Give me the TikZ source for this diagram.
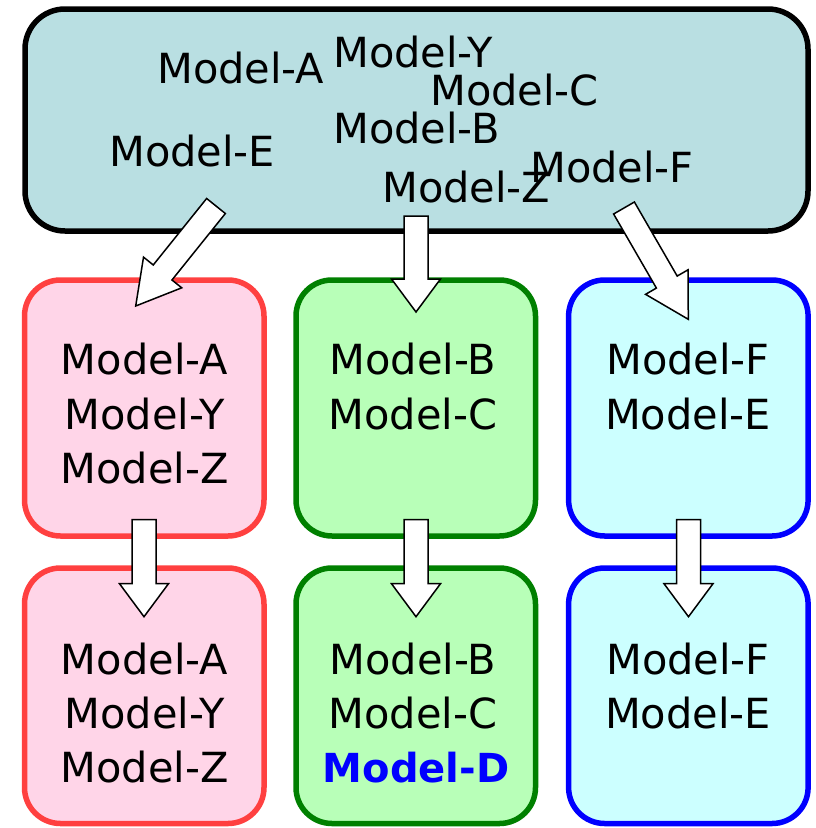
\documentclass[tikz,border=0pt]{standalone}
\usepackage{fontspec}
\setmainfont{DejaVu Sans}
\usetikzlibrary{calc}
\definecolor{topfill}{RGB}{185,223,226}
\definecolor{pinkfill}{RGB}{255,213,232}
\definecolor{pinkline}{RGB}{255,64,64}
\definecolor{greenfill}{RGB}{184,255,184}
\definecolor{greenline}{RGB}{0,128,0}
\definecolor{cyanfill}{RGB}{204,255,255}
\definecolor{blueline}{RGB}{0,0,255}
\newcommand\blockarrow[3]{%
  \coordinate (hb) at ($(#2)!#3!(#1)$);
  \draw[blockarrow] ($(#1)!12pt!90:(#2)$) -- ($(hb)!12pt!90:(#2)$) -- ($(hb)!24.5pt!90:(#2)$) -- (#2) -- ($(hb)!24.5pt!-90:(#2)$) -- ($(hb)!12pt!-90:(#2)$) -- ($(#1)!12pt!-90:(#2)$) -- cycle;}
\begin{document}
\begin{tikzpicture}[x=1pt,y=-1pt,
  box/.style={rectangle, rounded corners=36pt, line width=5.5pt, inner sep=0pt, minimum width=239.5pt},
  midbox/.style={box, minimum height=256pt},
  lowbox/.style={box, minimum height=255.5pt},
  pinkbox/.style={draw=pinkline, fill=pinkfill},
  greenbox/.style={draw=greenline, fill=greenfill},
  cyanbox/.style={draw=blueline, fill=cyanfill},
  txt/.style={inner sep=0pt, font=\fontsize{41.5}{50}\selectfont},
  ltxt/.style={txt, anchor=base west},
  ctxt/.style={txt, anchor=base},
  blockarrow/.style={draw=black, fill=white, line width=1.5pt, line join=miter}]
\useasboundingbox (0,0) rectangle (816,828);
% top box
\node[rectangle, rounded corners=40pt, line width=5.5pt, draw=black, fill=topfill, inner sep=0pt,
  minimum width=783pt, minimum height=222pt] (top) at (416.5,120) {};
\node[ltxt] (tA) at (157,83) {Model-A};
\node[ltxt] (tY) at (333,67) {Model-Y};
\node[ltxt] (tC) at (430,105) {Model-C};
\node[ltxt] (tB) at (333,143) {Model-B};
\node[ltxt] (tE) at (109,166) {Model-E};
\node[ltxt] (tZ) at (382,202) {Model-Z};
\node[ltxt] (tF) at (530,182) {Model-F};
% middle row
\node[midbox, pinkbox] (m1) at (144.25,408) {};
\node[midbox, greenbox] (m2) at (415.75,408) {};
\node[midbox, cyanbox] (m3) at (688.35,408) {};
% bottom row
\node[lowbox, pinkbox] (b1) at (144.25,695.75) {};
\node[lowbox, greenbox] (b2) at (415.75,695.75) {};
\node[lowbox, cyanbox] (b3) at (688.35,695.75) {};
% texts middle
\node[ctxt] (m1a) at (144.5,374.5) {Model-A};
\node[ctxt] (m1b) at (144.5,429) {Model-Y};
\node[ctxt] (m1c) at (144.5,483.5) {Model-Z};
\node[ctxt] (m2a) at (413,374.5) {Model-B};
\node[ctxt] (m2b) at (413,429) {Model-C};
\node[ctxt] (m3a) at (688,374.5) {Model-F};
\node[ctxt] (m3b) at (688,429) {Model-E};
% texts bottom
\node[ctxt] (b1a) at (144.5,674) {Model-A};
\node[ctxt] (b1b) at (144.5,728) {Model-Y};
\node[ctxt] (b1c) at (144.5,782) {Model-Z};
\node[ctxt] (b2a) at (413,674) {Model-B};
\node[ctxt] (b2b) at (413,728) {Model-C};
\node[ctxt, text=blueline, font=\fontsize{40}{48}\selectfont\bfseries] (b2c) at (416,782) {Model-D};
\node[ctxt] (b3a) at (688,674) {Model-F};
\node[ctxt] (b3b) at (688,728) {Model-E};
% arrow end points
\coordinate (a1s) at (216,206);   \coordinate (a1e) at (135.7,306);
\coordinate (a2s) at (416,216);   \coordinate (a2e) at (416,312);
\coordinate (a3s) at (624,208);   \coordinate (a3e) at (688.3,319.3);
\coordinate (a4s) at (144,519.5); \coordinate (a4e) at (144,616.7);
\coordinate (a5s) at (416,519.5); \coordinate (a5e) at (416,616.7);
\coordinate (a6s) at (688.5,519.5); \coordinate (a6e) at (688.5,616.7);
\blockarrow{a1s}{a1e}{43pt}
\blockarrow{a2s}{a2e}{33pt}
\blockarrow{a3s}{a3e}{43pt}
\blockarrow{a4s}{a4e}{33pt}
\blockarrow{a5s}{a5e}{33pt}
\blockarrow{a6s}{a6e}{33pt}
\end{tikzpicture}
\end{document}
